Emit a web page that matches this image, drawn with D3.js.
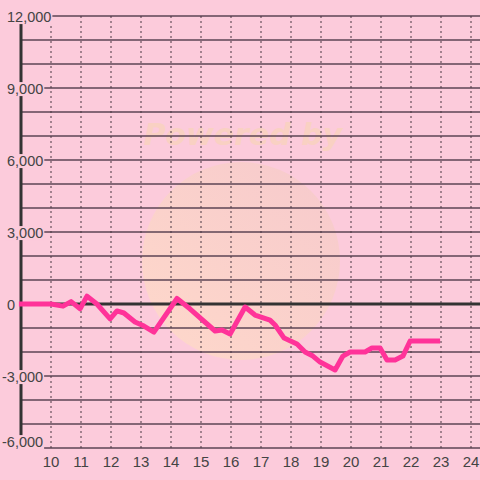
<!DOCTYPE html>
<html>
<head>
  <script src="https://d3js.org/d3.v7.min.js"></script>
  <style>
  body { margin: 0; background: #fccbdb; }
  svg { display: block; font-family: "Liberation Sans", Arial, sans-serif; }
  </style>
</head>
<body>
  <script>
  var w = 480;
  var h = 480;

  //Series
  var hours = [8.93, 10, 10.4, 10.67, 10.97, 11.2, 11.53, 11.97, 12.2, 12.43, 12.8, 13.1, 13.43,
    14.2, 14.63, 15.47, 15.7, 15.97, 16.47, 16.8, 17.3, 17.47, 17.77, 18.2, 18.47, 18.73, 18.97,
    19.47, 19.73, 19.97, 20.47, 20.7, 20.97, 21.2, 21.47, 21.73, 21.97, 22.97];
  var values = [0, 0, -90, 100, -200, 330, 0, -620, -290, -375, -750, -920, -1170,
    230, -200, -1125, -1080, -1250, -125, -460, -670, -875, -1420, -1670, -2000, -2170, -2420,
    -2750, -2170, -2000, -2000, -1830, -1830, -2330, -2330, -2170, -1540, -1540];

  //Axis ticks
  var yTicks = [12000, 9000, 6000, 3000, 0, -3000, -6000];
  var yGrid = d3.range(-6000, 12001, 1000);
  var xTicks = d3.range(10, 25);

  var x = d3.scaleLinear().domain([9, 24]).range([21, 471]);
  var y = d3.scaleLinear().domain([-6000, 12000]).range([448, 16]);

  var svg = d3.select("body")
    .append("svg")
    .attr("width", w)
    .attr("height", h);

  svg.append("rect").attr("width", w).attr("height", h).attr("fill", "#fccbdb");

  //Faint watermark
  var grad = svg.append("defs").append("linearGradient")
    .attr("id", "wm").attr("x1", 0).attr("y1", 1).attr("x2", 1).attr("y2", 0);
  grad.append("stop").attr("offset", "0%").attr("stop-color", "#ffdcc6");
  grad.append("stop").attr("offset", "100%").attr("stop-color", "#f5c9c9");
  svg.append("circle")
    .attr("cx", 241).attr("cy", 261).attr("r", 99)
    .attr("fill", "url(#wm)").attr("opacity", 0.8);
  svg.append("text")
    .attr("x", 243).attr("y", 145)
    .attr("text-anchor", "middle")
    .attr("font-family", "'DejaVu Sans', sans-serif")
    .attr("font-size", 30).attr("font-weight", "bold").attr("font-style", "italic")
    .attr("fill", "#f9d1c3")
    .text("Powered by");

  //Horizontal grid
  svg.append("g")
    .selectAll("line")
    .data(yGrid)
    .enter()
    .append("line")
      .attr("x1", 21).attr("x2", w)
      .attr("y1", function(d){ return y(d); })
      .attr("y2", function(d){ return y(d); })
      .attr("stroke", "#5c4454")
      .attr("stroke-width", 1.3);

  //Vertical dotted grid
  svg.append("g")
    .selectAll("line")
    .data(xTicks)
    .enter()
    .append("line")
      .attr("x1", function(d){ return x(d); })
      .attr("x2", function(d){ return x(d); })
      .attr("y1", 16).attr("y2", 448)
      .attr("stroke", "#4a3842")
      .attr("stroke-width", 1)
      .attr("stroke-dasharray", "2,3");

  //Y axis and zero line
  svg.append("line")
    .attr("x1", 21).attr("x2", 21).attr("y1", 16).attr("y2", 448)
    .attr("stroke", "#333").attr("stroke-width", 3);
  svg.append("line")
    .attr("x1", 21).attr("x2", w).attr("y1", y(0)).attr("y2", y(0))
    .attr("stroke", "#333").attr("stroke-width", 3);

  //Data line
  var line = d3.line()
    .x(function(d, i){ return x(hours[i]); })
    .y(function(d){ return y(d); });
  svg.append("path")
    .datum(values)
    .attr("d", line)
    .attr("fill", "none")
    .attr("stroke", "#ff3399")
    .attr("stroke-width", 5)
    .attr("stroke-linejoin", "round");

  //Y labels with background
  var yl = svg.append("g")
    .selectAll("g")
    .data(yTicks)
    .enter()
    .append("g");
  yl.append("text")
    .attr("x", function(d){ return d < 0 ? 2 : 7; })
    .attr("y", function(d){ return d == -6000 ? 442 : y(d) + 1; })
    .attr("dy", "0.35em")
    .attr("font-size", 14.5)
    .attr("fill", "#444")
    .text(function(d){ return d3.format(",")(d).replace("−", "-"); })
    .each(function(){
      var b = this.getBBox();
      d3.select(this.parentNode).insert("rect", "text")
        .attr("x", b.x - 1).attr("y", b.y + 1)
        .attr("width", b.width + 2).attr("height", b.height - 2)
        .attr("fill", "#fccbdb");
    });

  //X labels
  svg.append("g")
    .selectAll("text")
    .data(xTicks)
    .enter()
    .append("text")
      .attr("x", function(d){ return x(d); })
      .attr("y", 467)
      .attr("text-anchor", "middle")
      .attr("font-size", 15)
      .attr("fill", "#444")
      .text(function(d){ return d; });
  </script>
</body>
</html>
